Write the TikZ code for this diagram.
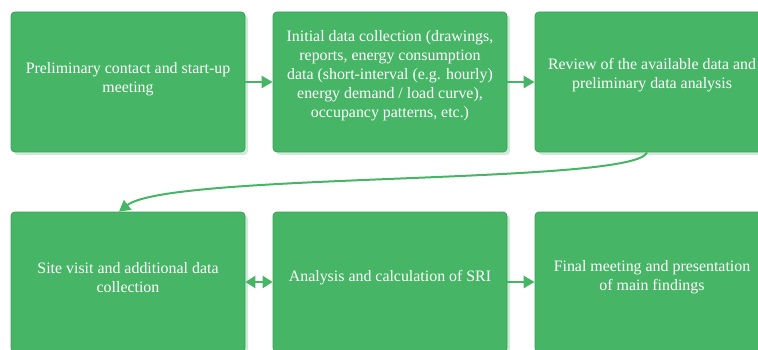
\documentclass[tikz,border=0pt]{standalone}
\usepackage{fontspec}
\setmainfont{Liberation Serif}
\usetikzlibrary{arrows.meta,shadows}
\definecolor{boxgreen}{HTML}{47B566}
\definecolor{boxedge}{HTML}{3C9E57}
\definecolor{shadowgreen}{HTML}{CDEBD6}
\begin{document}
\begin{tikzpicture}[x=1pt,y=-1pt,
  stepbox/.style={draw=boxedge, line width=0.8pt, fill=boxgreen, rounded corners=4pt,
    minimum width=234pt, minimum height=140pt, inner sep=0pt,
    drop shadow={shadow xshift=3pt, shadow yshift=-3pt, fill=shadowgreen, opacity=1}},
  steptext/.style={text=white, align=center, inner sep=0pt,
    font=\fontsize{15.9}{19}\selectfont},
  arr/.style={draw=boxgreen, line width=2.5pt, -{Triangle[length=11pt,width=12pt]}},
  darr/.style={draw=boxgreen, line width=2.5pt, {Triangle[length=10pt,width=12pt]}-{Triangle[length=10pt,width=12pt]}}]
\useasboundingbox (0,0) rectangle (758,350);
\clip (0,0) rectangle (758,350);
\node[stepbox] (b1) at (128,82) {};
\node[stepbox] (b2) at (390,82) {};
\node[stepbox] (b3) at (652,82) {};
\node[stepbox] (b4) at (128,282) {};
\node[stepbox] (b5) at (390,282) {};
\node[stepbox] (b6) at (652,282) {};
\node[steptext] (t1) at (128,79) {Preliminary contact and start-up\\meeting};
\node[steptext] (t2) at (390,75.5) {Initial data collection (drawings,\\reports, energy consumption\\data (short-interval (e.g. hourly)\\energy demand / load curve),\\occupancy patterns, etc.)};
\node[steptext] (t3) at (652,75.5) {Review of the available data and\\preliminary data analysis};
\node[steptext] (t4) at (128,277.5) {Site visit and additional data\\collection};
\node[steptext] (t5) at (390,278) {Analysis and calculation of SRI};
\node[steptext] (t6) at (652,277.5) {Final meeting and presentation\\of main findings};
\draw[arr] (b1.east) -- (b2.west);
\draw[arr] (b2.east) -- (b3.west);
\draw[darr] (b4.east) -- (b5.west);
\draw[arr] (b5.east) -- (b6.west);
\draw[arr, line width=2pt] ([xshift=-5pt]b3.south) .. controls (635,185) and (170,172) .. ([xshift=-9pt]b4.north);
\end{tikzpicture}
\end{document}
